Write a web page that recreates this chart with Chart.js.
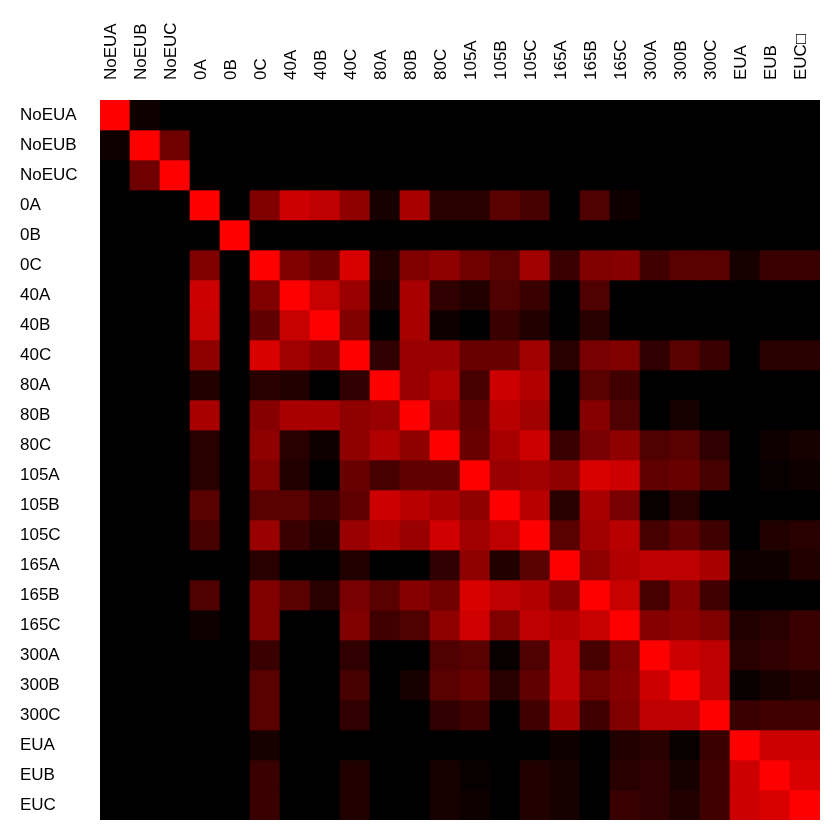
<!DOCTYPE html>
<html>
<head>
<meta charset="utf-8">
<script src="https://cdn.jsdelivr.net/npm/chart.js@4.4.1/dist/chart.umd.min.js"></script>
<style>
body{margin:0;background:#fff;}
</style>
</head>
<body>
<canvas id="heatChart" width="840" height="840"></canvas>
<script>
const colLabels = ["NoEUA","NoEUB","NoEUC","0A","0B","0C","40A","40B","40C","80A","80B","80C",
    "105A","105B","105C","165A","165B","165C","300A","300B","300C","EUA","EUB","EUC\u25A1"];

const rowLabels = ["NoEUA","NoEUB","NoEUC","0A","0B","0C","40A","40B","40C","80A","80B","80C",
    "105A","105B","105C","165A","165B","165C","300A","300B","300C","EUA","EUB","EUC"];

// one row of the matrix per array, values 0..1
const rowNoEUA = [1,.06,0,0,0,0,0,0,0,0,0,0,0,0,0,0,0,0,0,0,0,0,0,0];
const rowNoEUB = [.06,1,.44,0,0,0,0,0,0,0,0,0,0,0,0,0,0,0,0,0,0,0,0,0];
const rowNoEUC = [0,.44,1,0,0,0,0,0,0,0,0,0,0,0,0,0,0,0,0,0,0,0,0,0];
const row0A   = [0,0,0,1,0,.5,.8,.75,.56,.09,.66,.16,.16,.35,.28,0,.31,.06,0,0,0,0,0,0];
const row0B   = [0,0,0,0,1,0,0,0,0,0,0,0,0,0,0,0,0,0,0,0,0,0,0,0];
const row0C   = [0,0,0,.5,0,1,.5,.41,.85,.13,.5,.56,.44,.35,.63,.22,.5,.53,.25,.35,.35,.09,.22,.22];
const row40A  = [0,0,0,.8,0,.5,1,.78,.6,.09,.66,.19,.13,.31,.22,0,.31,0,0,0,0,0,0,0];
const row40B  = [0,0,0,.78,0,.38,.78,1,.5,0,.66,.06,0,.22,.13,0,.16,0,0,0,0,0,0,0];
const row40C  = [0,0,0,.56,0,.85,.63,.53,1,.19,.6,.6,.41,.41,.63,.16,.47,.5,.19,.35,.22,0,.16,.16];
const row80A  = [0,0,0,.13,0,.16,.13,0,.19,1,.6,.69,.28,.8,.69,0,.35,.25,0,0,0,0,0,0];
const row80B  = [0,0,0,.66,0,.53,.66,.66,.56,.6,1,.6,.38,.72,.63,0,.53,.31,0,.09,0,0,0,0];
const row80C  = [0,0,0,.16,0,.56,.16,.06,.56,.69,.56,1,.41,.66,.8,.22,.47,.56,.31,.35,.19,0,.06,.09];
const row105A = [0,0,0,.16,0,.5,.13,0,.41,.28,.38,.38,1,.6,.63,.56,.85,.8,.38,.41,.28,0,.03,.06];
const row105B = [0,0,0,.35,0,.35,.35,.22,.38,.8,.72,.66,.56,1,.72,.16,.66,.47,.03,.16,0,0,0,0];
const row105C = [0,0,0,.28,0,.6,.22,.13,.6,.69,.6,.82,.63,.75,1,.35,.63,.72,.28,.38,.25,0,.13,.16];
const row165A = [0,0,0,0,0,.16,0,0,.13,0,0,.19,.56,.13,.35,1,.56,.69,.75,.74,.66,.06,.06,.13];
const row165B = [0,0,0,.31,0,.5,.35,.16,.47,.35,.53,.44,.85,.75,.69,.53,1,.78,.28,.53,.25,0,0,0];
const row165C = [0,0,0,.06,0,.5,0,0,.5,.25,.31,.56,.82,.5,.75,.69,.78,1,.53,.56,.5,.13,.16,.22];
const row300A = [0,0,0,0,0,.22,0,0,.19,0,0,.31,.35,.03,.31,.75,.28,.5,1,.8,.75,.16,.19,.22];
const row300B = [0,0,0,0,0,.35,0,0,.28,0,.09,.35,.41,.16,.38,.75,.44,.53,.8,1,.75,.03,.09,.13];
const row300C = [0,0,0,0,0,.35,0,0,.19,0,0,.19,.25,0,.25,.66,.25,.5,.75,.75,1,.22,.25,.25];
const rowEUA  = [0,0,0,0,0,.09,0,0,0,0,0,0,0,0,0,.06,0,.13,.16,.03,.22,1,.8,.8];
const rowEUB  = [0,0,0,0,0,.22,0,0,.13,0,0,.09,.03,0,.13,.09,0,.16,.19,.09,.25,.8,1,.85];
const rowEUC  = [0,0,0,0,0,.22,0,0,.13,0,0,.09,.06,0,.13,.09,0,.22,.19,.13,.25,.8,.85,1];

const matrix = [rowNoEUA,rowNoEUB,rowNoEUC,row0A,row0B,row0C,row40A,row40B,row40C,
    row80A,row80B,row80C,row105A,row105B,row105C,row165A,row165B,row165C,
    row300A,row300B,row300C,rowEUA,rowEUB,rowEUC];

const labelFont = {family:"'Liberation Sans', Arial, sans-serif", size:17};

// each row is a dataset of floating bars spanning [r, r+1] on the y scale
const datasets = matrix.map((row, r)=>({
    label:rowLabels[r],
    data:row.map(()=>[r, r + 1]),
    backgroundColor:row.map(v=>"rgb(" + Math.round(v * 255) + ",0,0)"),
    borderWidth:0,
    grouped:false,
    categoryPercentage:1,
    barPercentage:1
}));

const ctx = document.getElementById("heatChart");

new Chart(ctx,{
    type:"bar",
    data:{
        labels:colLabels,
        datasets:datasets
    },
    options:{
        responsive:false,
        animation:false,
        layout:{
            padding:{left:20, right:20, top:0, bottom:20}
        },
        plugins:{
            legend:{display:false},
            tooltip:{enabled:false}
        },
        scales:{
            x:{
                position:"top",
                grid:{display:false, drawTicks:false},
                border:{display:false},
                ticks:{
                    autoSkip:false,
                    maxRotation:90,
                    minRotation:90,
                    padding:20,
                    labelOffset:17,
                    color:"#000",
                    font:labelFont
                },
                afterFit:(scale)=>{ scale.height = 100; }
            },
            y:{
                type:"linear",
                reverse:true,
                min:0,
                max:rowLabels.length,
                grid:{display:false, drawTicks:false},
                border:{display:false},
                afterBuildTicks:(scale)=>{
                    scale.ticks = rowLabels.map((_, i)=>({value:i + 0.5}));
                },
                ticks:{
                    crossAlign:"far",
                    color:"#000",
                    font:labelFont,
                    callback:(value, index)=>rowLabels[index]
                },
                afterFit:(scale)=>{ scale.width = 80; }
            }
        }
    }
});
</script>
</body>
</html>
